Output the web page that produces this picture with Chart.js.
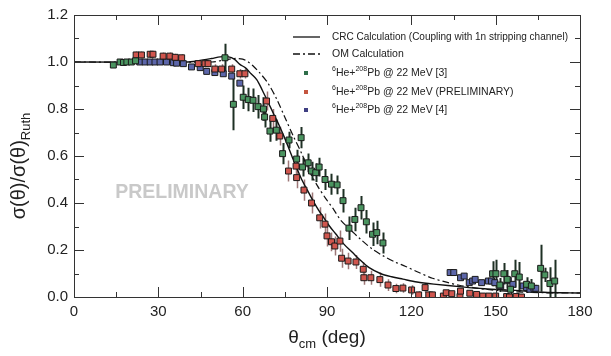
<!DOCTYPE html>
<html><head><meta charset="utf-8">
<script src="https://cdn.jsdelivr.net/npm/chart.js@4.4.0/dist/chart.umd.min.js"></script>
<style>html,body{margin:0;padding:0;background:#fff;}</style>
</head><body>
<canvas id="c" width="611" height="356"></canvas>
<script>
// ---- tick labels ----
const X_TICKS = [0, 30, 60, 90, 120, 150, 180];
const Y_TICKS = [0, 0.2, 0.4, 0.6, 0.8, 1.0, 1.2];

// ---- CRC calculation (solid) ----
const CRC_X = [0, 40, 44, 49, 52, 55, 57, 59, 61, 63, 65, 67, 69, 71, 73, 75, 77, 79, 81, 83, 85, 87, 89, 91, 93, 96, 99, 102, 105, 109, 113, 117, 122, 128, 138, 146, 157, 167, 180];
const CRC_Y = [1.0, 1.0, 1.005, 1.015, 1.022, 1.022, 1.012, 0.99, 0.975, 0.95, 0.925, 0.88, 0.83, 0.78, 0.73, 0.675, 0.615, 0.555, 0.50, 0.455, 0.41, 0.37, 0.335, 0.30, 0.27, 0.225, 0.19, 0.155, 0.125, 0.10, 0.086, 0.076, 0.064, 0.055, 0.043, 0.035, 0.028, 0.02, 0.017];

// ---- OM calculation (dash-dot) ----
const OM_X = [0, 49, 54, 57, 60, 62, 64, 66, 69, 72, 75, 78, 81, 83.5, 86.5, 89.5, 92.5, 95, 98, 102, 106, 110, 114, 118, 122.5, 127.5, 132.5, 137, 142, 147, 157, 167, 180];
const OM_Y = [1.0, 1.0, 1.01, 1.015, 1.012, 1.0, 0.98, 0.955, 0.91, 0.845, 0.765, 0.685, 0.61, 0.54, 0.475, 0.42, 0.37, 0.325, 0.29, 0.245, 0.205, 0.175, 0.15, 0.13, 0.105, 0.08, 0.063, 0.05, 0.04, 0.032, 0.022, 0.018, 0.017];

// ---- 6He+208Pb @ 22 MeV [3] (green) ----
const GREEN_X = [14.0, 16.4, 17.6, 18.8, 20.4, 21.9, 53.7, 56.7, 60.2, 62.0, 63.7, 65.5, 67.4, 67.8, 69.7, 72.0, 74.2, 76.5, 79.2, 80.8, 81.3, 83.3, 84.5, 86.0, 87.2, 89.3, 91.6, 93.6, 95.7, 97.8, 99.9, 102.1, 104.0, 106.2, 107.7, 109.9, 148.9, 150.1, 151.5, 152.9, 154.1, 155.3, 156.8, 158.4, 161.0, 162.7, 166.0, 167.5, 169.3, 171.0];
const GREEN_Y = [0.987, 1.0, 0.998, 1.0, 1.0, 1.005, 1.018, 0.82, 0.85, 0.84, 0.837, 0.81, 0.80, 0.766, 0.706, 0.71, 0.61, 0.668, 0.587, 0.678, 0.553, 0.571, 0.536, 0.529, 0.553, 0.50, 0.48, 0.477, 0.41, 0.293, 0.33, 0.38, 0.32, 0.267, 0.274, 0.23, 0.099, 0.099, 0.051, 0.099, 0.075, 0.033, 0.099, 0.085, 0.054, 0.047, 0.122, 0.094, 0.057, 0.068];
const GREEN_ERR = [0.012, 0.012, 0.012, 0.012, 0.012, 0.012, 0.06, 0.11, 0.05, 0.05, 0.05, 0.05, 0.05, 0.045, 0.045, 0.045, 0.045, 0.035, 0.04, 0.045, 0.04, 0.04, 0.04, 0.04, 0.04, 0.045, 0.045, 0.04, 0.05, 0.05, 0.05, 0.05, 0.05, 0.05, 0.05, 0.045, 0.053, 0.06, 0.03, 0.046, 0.04, 0.03, 0.06, 0.064, 0.03, 0.03, 0.1, 0.03, 0.07, 0.09];

// ---- 6He+208Pb @ 22 MeV (PRELIMINARY) (red) ----
const RED_X = [22.1, 24.0, 27.1, 28.1, 31.7, 34.1, 36.0, 38.3, 44.2, 46.6, 47.7, 50.1, 52.5, 56.1, 59.0, 60.8, 68.5, 70.7, 73.2, 76.3, 79.0, 79.2, 81.8, 84.5, 87.4, 89.3, 90.0, 91.6, 92.8, 94.6, 95.2, 97.5, 100.3, 102.9, 103.1, 105.6, 108.8, 111.7, 114.5, 117.0, 120.1, 122.6, 124.9, 126.2, 127.5, 131.4, 132.4, 134.4, 137.3, 137.5, 140.8, 143.2, 145.4, 147.6, 150.0, 153.9, 154.9, 157.3, 159.2];
const RED_Y = [1.03, 1.03, 1.033, 1.033, 1.025, 1.025, 1.02, 1.018, 0.993, 0.993, 0.993, 0.97, 0.97, 0.97, 0.95, 0.95, 0.834, 0.76, 0.685, 0.536, 0.557, 0.508, 0.455, 0.40, 0.337, 0.31, 0.26, 0.235, 0.217, 0.238, 0.165, 0.153, 0.149, 0.118, 0.082, 0.082, 0.074, 0.051, 0.036, 0.038, 0.03, 0.009, 0.04, 0.009, 0.009, 0.004, 0.018, 0.014, 0.002, 0.025, 0.016, 0.011, 0.004, 0.004, 0.004, 0.002, 0.0, 0.002, 0.0];
const RED_ERR = [0.015, 0.015, 0.015, 0.015, 0.015, 0.015, 0.015, 0.015, 0.015, 0.015, 0.015, 0.02, 0.02, 0.02, 0.02, 0.02, 0.04, 0.04, 0.04, 0.045, 0.04, 0.045, 0.045, 0.045, 0.045, 0.045, 0.045, 0.04, 0.04, 0.045, 0.04, 0.035, 0.03, 0.03, 0.03, 0.03, 0.03, 0.025, 0.02, 0.02, 0.02, 0.015, 0.02, 0.015, 0.015, 0.012, 0.012, 0.012, 0.012, 0.012, 0.012, 0.012, 0.012, 0.012, 0.012, 0.012, 0.012, 0.012, 0.012];

// ---- 6He+208Pb @ 22 MeV [4] (blue) ----
const BLUE_X = [23.4, 25.3, 27.1, 28.8, 30.6, 32.9, 35.3, 36.5, 38.9, 41.8, 44.9, 47.2, 50.1, 53.1, 56.1, 59.0, 133.8, 135.1, 137.5, 138.8, 140.6, 141.8, 142.7, 145.0, 147.4, 148.5, 149.7, 151.8, 154.5, 156.1, 159.8, 161.0, 162.2, 163.6, 164.3];
const BLUE_Y = [1.0, 1.0, 1.0, 1.0, 1.0, 1.0, 0.997, 0.995, 0.993, 0.979, 0.976, 0.96, 0.955, 0.95, 0.94, 0.91, 0.104, 0.104, 0.082, 0.089, 0.061, 0.068, 0.075, 0.061, 0.068, 0.068, 0.061, 0.047, 0.071, 0.054, 0.047, 0.04, 0.033, 0.037, 0.037];
const BLUE_ERR = [0.008, 0.008, 0.008, 0.008, 0.008, 0.008, 0.008, 0.008, 0.008, 0.008, 0.01, 0.01, 0.01, 0.01, 0.012, 0.012, 0.012, 0.012, 0.012, 0.012, 0.012, 0.012, 0.012, 0.012, 0.012, 0.012, 0.012, 0.012, 0.012, 0.012, 0.012, 0.012, 0.012, 0.012, 0.012];

const pts = (xs, ys) => xs.map((x, i) => ({x: x, y: ys[i]}));
const FONT = '"Liberation Sans", Arial, Helvetica, sans-serif';
const SERIES = [
  {label: '[3]', xs: GREEN_X, ys: GREEN_Y, err: GREEN_ERR, fill: '#4a9460', bar: '#1e3024', bw: 2},
  {label: 'PRELIMINARY', xs: RED_X, ys: RED_Y, err: RED_ERR, fill: '#d0564e', bar: '#9c7676', bw: 1.5},
  {label: '[4]', xs: BLUE_X, ys: BLUE_Y, err: BLUE_ERR, fill: '#5c66aa', bar: '#8c8caa', bw: 1}
];

function drawRich(ctx, parts, x, y) {
  let cx = x;
  for (const p of parts) {
    ctx.font = (p.bold ? 'bold ' : '') + p.size + 'px ' + FONT;
    ctx.fillText(p.t, cx, y + (p.dy || 0));
    cx += ctx.measureText(p.t).width;
  }
  return cx - x;
}

const decor = {
  id: 'decor',
  beforeDatasetsDraw(chart) {
    const ctx = chart.ctx, a = chart.chartArea, xs = chart.scales.x, ys = chart.scales.y;
    ctx.save();
    // watermark
    ctx.fillStyle = '#c9c9c9';
    ctx.font = 'bold 19.5px ' + FONT;
    ctx.textAlign = 'center'; ctx.textBaseline = 'middle';
    ctx.fillText('PRELIMINARY', 182, 193);
    // error bars
    ctx.beginPath(); ctx.rect(a.left, a.top, a.right - a.left, a.bottom - a.top); ctx.clip();
    for (const s of SERIES) {
      ctx.strokeStyle = s.bar; ctx.lineWidth = s.bw;
      ctx.beginPath();
      s.xs.forEach((x, i) => {
        const px = Math.round(xs.getPixelForValue(x)) + 0.5;
        ctx.moveTo(px, ys.getPixelForValue(s.ys[i] - s.err[i]));
        ctx.lineTo(px, ys.getPixelForValue(s.ys[i] + s.err[i]));
      });
      ctx.stroke();
    }
    ctx.restore();
  },
  afterDraw(chart) {
    const ctx = chart.ctx, a = chart.chartArea, xs = chart.scales.x, ys = chart.scales.y;
    ctx.save();
    // frame
    ctx.strokeStyle = '#333'; ctx.lineWidth = 1;
    ctx.strokeRect(Math.round(a.left) + 0.5, Math.round(a.top) + 0.5, Math.round(a.right - a.left), Math.round(a.bottom - a.top));
    // ticks (inside)
    ctx.beginPath();
    for (let v = 0; v <= 180; v += 15) {
      const px = Math.round(xs.getPixelForValue(v)) + 0.5;
      const L = (v % 30 === 0) ? 10 : 5;
      ctx.moveTo(px, a.bottom); ctx.lineTo(px, a.bottom - L);
      ctx.moveTo(px, a.top); ctx.lineTo(px, a.top + L);
    }
    for (let k = 0; k <= 12; k++) {
      const py = Math.round(ys.getPixelForValue(k / 10)) + 0.5;
      const L = (k % 2 === 0) ? 10 : 5;
      ctx.moveTo(a.left, py); ctx.lineTo(a.left + L, py);
      ctx.moveTo(a.right, py); ctx.lineTo(a.right - L, py);
    }
    ctx.stroke();
    // axis titles
    ctx.fillStyle = '#222';
    ctx.textAlign = 'left'; ctx.textBaseline = 'alphabetic';
    const xParts = [{t: 'θ', size: 19}, {t: 'cm', size: 13, dy: 5}, {t: ' (deg)', size: 19}];
    let w = 0; xParts.forEach(p => { ctx.font = p.size + 'px ' + FONT; w += ctx.measureText(p.t).width; });
    drawRich(ctx, xParts, (a.left + a.right) / 2 - w / 2, 343);
    ctx.save();
    ctx.translate(25, 166); ctx.rotate(-Math.PI / 2);
    const yParts = [{t: 'σ(θ)/σ(θ)', size: 20}, {t: 'Ruth', size: 13, dy: 5}];
    w = 0; yParts.forEach(p => { ctx.font = p.size + 'px ' + FONT; w += ctx.measureText(p.t).width; });
    drawRich(ctx, yParts, -w / 2, 0);
    ctx.restore();
    // legend
    const rows = [37, 54, 73, 92, 110];
    ctx.strokeStyle = '#111'; ctx.lineWidth = 1.3;
    ctx.beginPath(); ctx.moveTo(293, rows[0]); ctx.lineTo(320, rows[0]); ctx.stroke();
    ctx.setLineDash([7, 3, 2, 3]);
    ctx.beginPath(); ctx.moveTo(293, rows[1]); ctx.lineTo(320, rows[1]); ctx.stroke();
    ctx.setLineDash([]);
    const legCols = ['#2f6e4a', '#c4553f', '#3e3e82'];
    ctx.textBaseline = 'middle';
    ctx.fillStyle = '#222';
    ctx.font = '10.5px ' + FONT;
    ctx.fillText('CRC Calculation (Coupling with 1n stripping channel)', 332, rows[0], 236);
    ctx.fillText('OM Calculation', 332, rows[1]);
    const tails = ['Pb @ 22 MeV [3]', 'Pb @ 22 MeV (PRELIMINARY)', 'Pb @ 22 MeV [4]'];
    for (let i = 0; i < 3; i++) {
      const y = rows[i + 2];
      ctx.fillStyle = legCols[i];
      ctx.fillRect(304, y - 2, 4, 4);
      ctx.fillStyle = '#222';
      drawRich(ctx, [{t: '6', size: 7, dy: -4}, {t: 'He+', size: 10.5}, {t: '208', size: 7, dy: -4}, {t: tails[i], size: 10.5}], 332, y);
    }
    ctx.restore();
  }
};

const datasets = [
  {type: 'line', label: 'CRC', data: pts(CRC_X, CRC_Y), borderColor: '#111', borderWidth: 1.4, pointRadius: 0, tension: 0.3, order: 2, fill: false},
  {type: 'line', label: 'OM', data: pts(OM_X, OM_Y), borderColor: '#111', borderWidth: 1.2, borderDash: [7, 3, 2, 3], pointRadius: 0, tension: 0.3, order: 2, fill: false}
];
for (const s of SERIES) {
  datasets.push({type: 'scatter', label: s.label, data: pts(s.xs, s.ys), pointStyle: 'rect', pointRadius: 4.2,
    pointBackgroundColor: s.fill, pointBorderColor: '#1a1a1a', pointBorderWidth: 1, order: 1});
}

new Chart(document.getElementById('c'), {
  type: 'scatter',
  data: {datasets: datasets},
  options: {
    responsive: false, animation: false, devicePixelRatio: 1,
    layout: {padding: {left: 0, right: 31, top: 14, bottom: 0}},
    plugins: {legend: {display: false}, tooltip: {enabled: false}},
    scales: {
      x: {type: 'linear', min: 0, max: 180,
        afterBuildTicks: s => { s.ticks = X_TICKS.map(v => ({value: v})); },
        afterFit: s => { s.height = 59; },
        grid: {display: false, drawTicks: false}, border: {display: false},
        ticks: {font: {family: FONT, size: 15}, color: '#222', padding: 6, maxRotation: 0, autoSkip: false}},
      y: {type: 'linear', min: 0, max: 1.2,
        afterBuildTicks: s => { s.ticks = Y_TICKS.map(v => ({value: v})); },
        afterFit: s => { s.width = 74; },
        grid: {display: false, drawTicks: false}, border: {display: false},
        ticks: {font: {family: FONT, size: 15}, color: '#222', padding: 6, autoSkip: false, callback: v => Number(v).toFixed(1)}}
    }
  },
  plugins: [decor]
});
</script>
</body></html>
